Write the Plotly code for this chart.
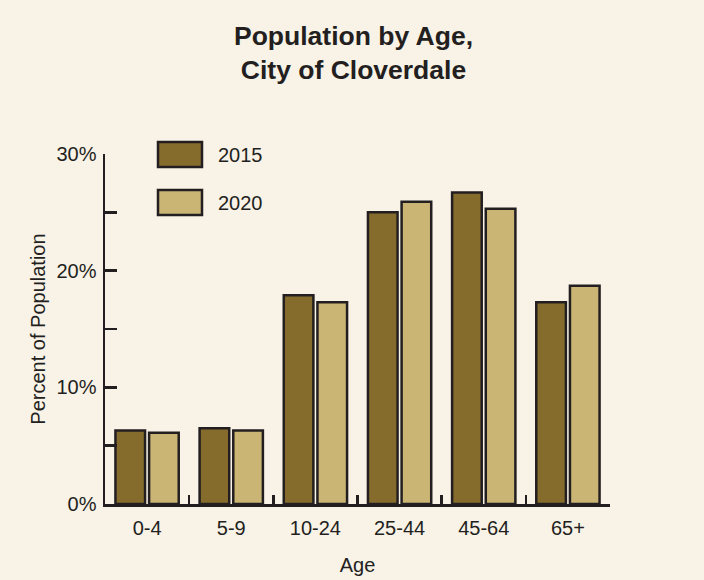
import plotly.graph_objects as go

categories = ["0-4", "5-9", "10-24", "25-44", "45-64", "65+"]
series_names = ["2015", "2020"]
values_2015 = [6.3, 6.5, 17.9, 25.0, 26.7, 17.3]
values_2020 = [6.1, 6.3, 17.3, 25.9, 25.3, 18.7]
y_tickvals = [0, 5, 10, 15, 20, 25, 30]
y_ticktext = ["0%", "", "10%", "", "20%", "", "30%"]
title_text = "<b>Population by Age,<br>City of Cloverdale</b>"

colors = ["#866c2c", "#cab574"]
ink = "#231f20"
bg = "#f8f2e7"
font = "Liberation Sans, Arial, sans-serif"

fig = go.Figure()
for name, vals, col in zip(series_names, [values_2015, values_2020], colors):
    fig.add_trace(go.Bar(
        x=categories, y=vals, name=name,
        marker=dict(color=col, line=dict(color=ink, width=2.5)),
        showlegend=False, hoverinfo="skip",
    ))

# plot-area geometry in page pixels
L, R, T, B = 105, 610, 154, 504
W, H = R - L, B - T
def px(x): return (x - L) / W
def py(y): return (B - y) / H

# custom legend (large swatches)
legend_rows = [(142, 167), (190, 215)]
for (y0, y1), name, col in zip(legend_rows, series_names, colors):
    fig.add_shape(type="rect", xref="paper", yref="paper",
                  x0=px(158), x1=px(202), y0=py(y1), y1=py(y0),
                  fillcolor=col, line=dict(color=ink, width=2.5))
    fig.add_annotation(xref="paper", yref="paper", x=px(216), y=py((y0 + y1) / 2),
                       text=name, showarrow=False, xanchor="left", yanchor="middle",
                       font=dict(size=20, color=ink, family=font))

# title
fig.add_annotation(xref="paper", yref="paper", x=px(353), y=py(53),
                   text=title_text, showarrow=False, xanchor="center", yanchor="middle",
                   align="center", font=dict(size=26.5, color=ink, family=font))

fig.update_layout(
    width=704, height=580,
    paper_bgcolor=bg, plot_bgcolor=bg,
    margin=dict(l=L, r=704 - R, t=T, b=580 - B, pad=0, autoexpand=False),
    barmode="group", bargap=0.2, bargroupgap=0.12,
    font=dict(family=font, color=ink, size=20),
    xaxis=dict(
        automargin=False,
        showline=True, linecolor=ink, linewidth=2.5,
        ticks="inside", tickson="boundaries", ticklen=9, tickwidth=2.5, tickcolor=ink,
        showgrid=False, zeroline=False, range=[-0.5, 5.5],
        tickfont=dict(size=20, color=ink),
        ticklabelstandoff=4,
        title=dict(text="Age", font=dict(size=20, color=ink), standoff=21),
    ),
    yaxis=dict(
        automargin=False,
        showline=True, linecolor=ink, linewidth=2.5,
        ticks="inside", ticklen=12, tickwidth=2.5, tickcolor=ink,
        showgrid=False, zeroline=False, range=[0, 30],
        tickvals=y_tickvals, ticktext=y_ticktext,
        tickfont=dict(size=20, color=ink),
        ticklabelstandoff=2,
        title=dict(text="Percent of Population", font=dict(size=20, color=ink), standoff=6),
    ),
)

fig.write_html(
    "out.html",
    config={"displayModeBar": False, "staticPlot": True},
    post_script="document.body.style.margin='0';document.body.style.background='#f8f2e7';document.body.style.overflow='hidden';",
)
